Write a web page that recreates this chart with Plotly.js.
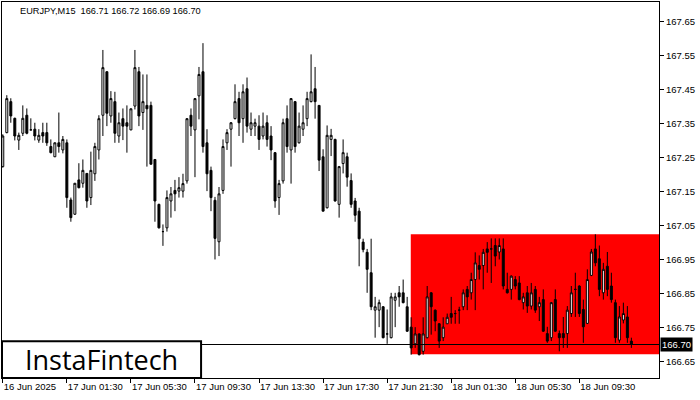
<!DOCTYPE html>
<html>
<head>
<meta charset="utf-8">
<script src="https://cdn.plot.ly/plotly-3.0.1.min.js"></script>
<style>html,body{margin:0;padding:0;background:#fff;}#chart{width:700px;height:400px;}</style>
</head>
<body>
<div id="chart"></div>
<script>
// EURJPY M15 candles, starting 16 Jun 2025 21:30, 15 minutes apart
const openP = [
167.223,167.323,167.414,167.365,167.301,167.321,167.374,167.331,167.333,167.301,
167.323,167.323,167.282,167.252,167.293,167.272,167.293,167.125,167.083,167.184,
167.174,167.203,167.132,167.202,167.272,167.374,167.502,167.372,167.414,167.313,
167.364,167.352,167.331,167.401,167.502,167.382,167.403,167.403,167.244,167.112,
167.032,167.043,167.122,167.153,167.151,167.151,167.181,167.374,167.331,167.431,
167.502,167.293,167.212,167.124,167.002,167.153,167.293,167.333,167.364,167.423,
167.364,167.452,167.333,167.342,167.342,167.313,167.352,167.313,167.264,167.132,
167.181,167.364,167.272,167.414,167.293,167.333,167.364,167.414,167.452,167.403,
167.252,167.102,167.303,167.303,167.112,167.232,167.252,167.182,167.122,167.092,
167.001,166.971,166.911,166.801,166.801,166.811,166.731,166.720,166.830,166.852,
166.852,166.811,166.751,166.702,166.731,166.680,166.720,166.852,166.801,166.761,
166.720,166.761,166.791,166.791,166.801,166.811,166.862,166.852,166.891,166.932,
166.932,166.981,166.981,166.991,166.972,166.981,166.862,166.862,166.891,166.881,
166.823,166.852,166.813,166.862,166.811,166.832,166.732,166.720,166.832,166.732,
166.732,166.732,166.791,166.862,166.872,166.803,166.762,166.903,166.981,166.952,
166.852,166.930,166.872,166.823,166.713,166.772,166.781,166.710
];
const highP = [
167.318,167.433,167.424,167.367,167.323,167.403,167.394,167.365,167.352,167.333,
167.352,167.352,167.303,167.294,167.382,167.313,167.303,167.132,167.175,167.233,
167.244,167.204,167.267,167.293,167.374,167.566,167.503,167.445,167.443,167.382,
167.394,167.403,167.394,167.566,167.516,167.494,167.494,167.414,167.245,167.114,
167.053,167.153,167.163,167.184,167.192,167.202,167.365,167.394,167.424,167.516,
167.586,167.333,167.223,167.134,167.163,167.303,167.333,167.354,167.465,167.443,
167.465,167.485,167.382,167.364,167.374,167.382,167.374,167.342,167.266,167.184,
167.364,167.403,167.424,167.416,167.382,167.403,167.443,167.553,167.516,167.404,
167.274,167.344,167.334,167.305,167.225,167.303,167.264,167.203,167.131,167.102,
167.011,166.981,167.011,166.840,166.832,166.813,166.803,166.852,166.852,166.872,
166.891,166.840,166.780,166.751,166.733,166.780,166.872,166.854,166.803,166.763,
166.780,166.791,166.840,166.801,166.811,166.862,166.872,166.911,166.971,166.962,
166.981,167.001,167.012,167.012,167.012,167.012,166.911,166.903,166.901,166.901,
166.852,166.872,166.881,166.872,166.840,166.862,166.752,166.825,166.862,166.741,
166.781,166.813,166.872,166.911,166.874,166.832,166.921,166.981,167.024,166.991,
166.940,166.972,166.911,166.832,166.813,166.823,166.813,166.720
];
const lowP = [
167.220,167.321,167.352,167.300,167.272,167.313,167.318,167.330,167.300,167.293,
167.293,167.284,167.262,167.251,167.264,167.262,167.102,167.061,167.081,167.159,
167.161,167.102,167.110,167.181,167.244,167.313,167.342,167.352,167.293,167.293,
167.301,167.264,167.330,167.391,167.342,167.331,167.223,167.230,167.061,167.041,
166.990,167.032,167.073,167.092,167.132,167.132,167.173,167.313,167.192,167.362,
167.264,167.151,167.092,166.950,166.960,167.143,167.272,167.223,167.362,167.313,
167.293,167.323,167.313,167.313,167.272,167.303,167.282,167.242,167.102,167.081,
167.173,167.264,167.173,167.264,167.291,167.313,167.342,167.412,167.364,167.210,
167.092,167.100,167.254,167.120,167.073,167.203,167.164,167.102,167.061,166.930,
166.971,166.852,166.801,166.720,166.751,166.718,166.702,166.718,166.751,166.811,
166.821,166.737,166.670,166.690,166.668,166.670,166.718,166.729,166.739,166.690,
166.710,166.761,166.761,166.761,166.761,166.801,166.801,166.832,166.801,166.891,
166.862,166.911,166.881,166.930,166.950,166.862,166.850,166.832,166.862,166.830,
166.803,166.793,166.803,166.793,166.769,166.737,166.705,166.710,166.737,166.680,
166.690,166.690,166.781,166.781,166.781,166.705,166.760,166.901,166.930,166.842,
166.832,166.842,166.823,166.705,166.705,166.762,166.705,166.690
];
const closeP = [
167.313,167.423,167.372,167.313,167.315,167.365,167.321,167.331,167.313,167.315,
167.313,167.293,167.264,167.293,167.282,167.303,167.132,167.073,167.174,167.161,
167.212,167.122,167.212,167.282,167.364,167.514,167.380,167.423,167.321,167.352,
167.342,167.342,167.393,167.514,167.372,167.414,167.393,167.230,167.122,167.043,
167.032,167.132,167.143,167.143,167.161,167.173,167.364,167.342,167.423,167.494,
167.282,167.202,167.132,167.012,167.143,167.282,167.323,167.352,167.414,167.352,
167.443,167.342,167.352,167.352,167.303,167.342,167.303,167.272,167.122,167.173,
167.352,167.282,167.423,167.282,167.342,167.352,167.423,167.443,167.414,167.242,
167.092,167.315,167.315,167.122,167.223,167.264,167.192,167.112,167.080,167.011,
166.979,166.921,166.811,166.811,166.823,166.720,166.731,166.840,166.840,166.840,
166.823,166.739,166.690,166.731,166.670,166.731,166.840,166.811,166.769,166.710,
166.751,166.780,166.780,166.791,166.801,166.852,166.840,166.891,166.940,166.921,
166.971,166.971,166.981,166.960,166.991,166.872,166.852,166.901,166.872,166.832,
166.840,166.813,166.852,166.801,166.823,166.739,166.710,166.823,166.739,166.720,
166.720,166.801,166.852,166.862,166.791,166.752,166.891,166.972,166.940,166.862,
166.921,166.862,166.832,166.720,166.781,166.791,166.720,166.700
];
const tickIdx = [0,16,32,48,64,80,96,112,128,144];
const tickLabels = ['16 Jun 2025','17 Jun 01:30','17 Jun 05:30','17 Jun 09:30','17 Jun 13:30','17 Jun 17:30','17 Jun 21:30','18 Jun 01:30','18 Jun 05:30','18 Jun 09:30'];
const priceTicks = [166.65,166.75,166.85,166.95,167.05,167.15,167.25,167.35,167.45,167.55,167.65];
const patternStart = [101.9];
const patternLevels = [166.671, 167.024];
const currentPrice = [166.70];
const header = 'EURJPY,M15  166.71 166.72 166.69 166.70';

const xIdx = openP.map((_, i) => i);
const font = 'Tahoma, "Liberation Sans", Arial, sans-serif';

const trace = {
  type: 'candlestick',
  x: xIdx, open: openP, high: highP, low: lowP, close: closeP,
  increasing: {line: {color: '#000', width: 1}, fillcolor: '#fff'},
  decreasing: {line: {color: '#000', width: 1}, fillcolor: '#000'},
  whiskerwidth: 0,
  hoverinfo: 'skip',
  showlegend: false
};

const layout = {
  width: 700, height: 400,
  margin: {l: 2, r: 41, t: 2, b: 22, pad: 0},
  paper_bgcolor: '#fff', plot_bgcolor: '#fff',
  showlegend: false,
  font: {family: font, size: 9.5, color: '#000'},
  xaxis: {
    type: 'linear', range: [-0.2, 163.9],
    rangeslider: {visible: false},
    tickmode: 'array', tickvals: tickIdx, ticktext: tickLabels,
    ticks: 'outside', ticklen: 4, tickcolor: '#000', tickwidth: 1,
    ticklabelposition: 'outside right',
    showgrid: false, zeroline: false,
    showline: true, mirror: true, linecolor: '#000', linewidth: 1,
    tickfont: {family: font, size: 9.5, color: '#000'}
  },
  yaxis: {
    side: 'right', range: [166.6015, 167.707],
    tickmode: 'array', tickvals: priceTicks, tickformat: '.2f',
    ticks: 'outside', ticklen: 4, tickcolor: '#000', tickwidth: 1,
    showgrid: false, zeroline: false,
    showline: true, mirror: true, linecolor: '#000', linewidth: 1,
    tickfont: {family: font, size: 9.5, color: '#000'}
  },
  shapes: [
    {type: 'rect', xref: 'x', yref: 'y', x0: patternStart[0], x1: 170,
     y0: patternLevels[0], y1: patternLevels[1], fillcolor: '#ff0000', line: {width: 0}, layer: 'below'},
    {type: 'line', xref: 'paper', yref: 'y', x0: 0, x1: 1, y0: currentPrice[0], y1: currentPrice[0],
     line: {color: '#000', width: 1}, layer: 'above'},
    {type: 'rect', xref: 'paper', yref: 'paper', x0: 0, x1: 0.303, y0: 0, y1: 0.098,
     fillcolor: '#fff', line: {color: '#000', width: 2}, layer: 'above'}
  ],
  annotations: [
    {xref: 'paper', yref: 'paper', x: 0.024, y: 0.976, xanchor: 'left', yanchor: 'middle',
     text: header, showarrow: false, font: {family: font, size: 9.2, color: '#000'}},
    {xref: 'paper', yref: 'y', x: 1, y: currentPrice[0], xanchor: 'left', yanchor: 'middle', xshift: 1,
     text: currentPrice[0].toFixed(2), showarrow: false, bgcolor: '#000', borderpad: 1,
     font: {family: font, size: 9.5, color: '#fff'}},
    {xref: 'paper', yref: 'paper', x: 0.1515, y: 0.049, xanchor: 'center', yanchor: 'middle',
     text: 'InstaFintech', showarrow: false,
     font: {family: '"Open Sans", "Noto Sans", sans-serif', size: 27, weight: 500, color: '#000'}}
  ]
};

Plotly.newPlot('chart', [trace], layout, {displayModeBar: false, staticPlot: true});
</script>
</body>
</html>
